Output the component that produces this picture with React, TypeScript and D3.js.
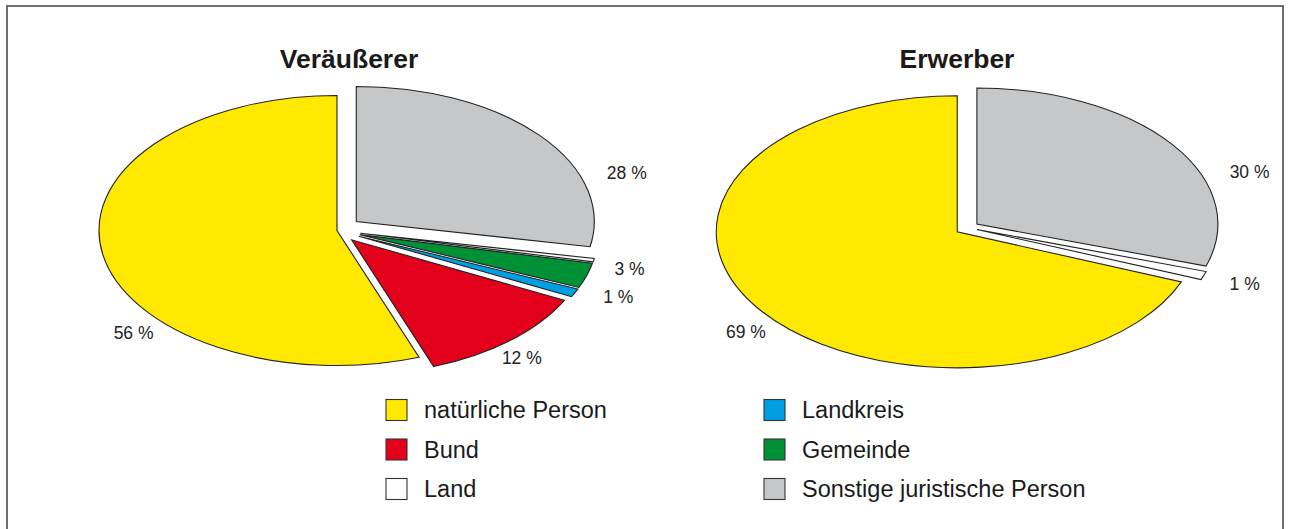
import React from 'react'
import * as d3 from 'd3'

// categories in legend order
const categories = ['natürliche Person', 'Bund', 'Land', 'Landkreis', 'Gemeinde', 'Sonstige juristische Person']
const colors = ['#ffe900', '#e2001a', '#ffffff', '#009fe3', '#009036', '#c6c7c8']

// slices run clockwise from 12 o'clock in this order
const pieOrder = ['Sonstige juristische Person', 'Land', 'Gemeinde', 'Landkreis', 'Bund', 'natürliche Person']

// shares in %, same order as categories
const veraeussererValues = [55.6, 12, 0.4, 1, 3, 28]
const erwerberValues = [69, 0, 1, 0, 0, 30]

const veraeussererLabels = ['56 %', '12 %', '', '1 %', '3 %', '28 %']
const erwerberLabels = ['69 %', '', '1 %', '', '', '30 %']

const titles = ['Veräußerer', 'Erwerber']

// layout of each pie (ellipse centre, radii, explode distance, label spot as [deg, radius factor])
const charts = [
  {
    title: titles[0], values: veraeussererValues, labels: veraeussererLabels,
    cx: 337, cy: 230.5, rx: 238, ry: 135, titleX: 349,
    explode: [0, 22, 24, 24, 24, 25],
    labelPos: [[228.4, 1.143], [140.5, 1.221], [0, 0], [112.6, 1.28], [103.1, 1.262], [70.7, 1.29]],
  },
  {
    title: titles[1], values: erwerberValues, labels: erwerberLabels,
    cx: 968, cy: 227.7, rx: 241, ry: 136, titleX: 957,
    explode: [13, 0, 9.5, 0, 0, 11],
    labelPos: [[230.2, 1.199], [0, 0], [109.8, 1.22], [0, 0], [0, 0], [70.7, 1.238]],
  },
]

const font = '"Liberation Sans", Arial, Helvetica, sans-serif'

function Pie({ chart }) {
  const { cx, cy, rx, ry } = chart
  const k = ry / rx
  const rows = pieOrder.map(name => {
    const i = categories.indexOf(name)
    return { i, name, value: chart.values[i] }
  })
  const pie = d3.pie().sort(null).value(d => d.value)
  const arcs = pie(rows).filter(a => a.data.value > 0)
  const arc = d3.arc().innerRadius(0).outerRadius(rx)

  return (
    <g>
      <text x={chart.titleX} y={68} textAnchor="middle" fontSize={26.5} fontWeight="bold"
        fontFamily={font} fill="#1a1a1a">{chart.title}</text>
      {arcs.map(a => {
        const mid = (a.startAngle + a.endAngle) / 2
        const d = chart.explode[a.data.i]
        const ox = cx + d * Math.sin(mid)
        const oy = cy - d * Math.cos(mid) * k
        return (
          <g key={a.data.name} transform={`translate(${ox},${oy}) scale(1,${k})`}>
            <path d={arc(a)} fill={colors[a.data.i]} stroke="#222" strokeWidth={1.1}
              strokeLinejoin="miter" vectorEffect="non-scaling-stroke" />
          </g>
        )
      })}
      {chart.labels.map((lab, i) => {
        if (!lab) return null
        const [deg, r] = chart.labelPos[i]
        const t = (deg * Math.PI) / 180
        return (
          <text key={i} x={cx + rx * r * Math.sin(t)} y={cy - ry * r * Math.cos(t)}
            textAnchor="middle" dominantBaseline="central" fontSize={17.5}
            fontFamily={font} fill="#222">{lab}</text>
        )
      })}
    </g>
  )
}

const legendCols = [386, 764]
const legendRows = [410, 449.5, 489]

export default function App() {
  return (
    <svg width={1290} height={529} style={{ position: 'absolute', left: 0, top: 0, background: '#fff' }}>
      <rect x={7} y={6} width={1276} height={600} fill="none" stroke="#4d4d4d" strokeWidth={1.6} />
      {charts.map(c => <Pie key={c.title} chart={c} />)}
      {categories.map((name, i) => {
        const x = legendCols[Math.floor(i / 3)]
        const y = legendRows[i % 3]
        return (
          <g key={name}>
            <rect x={x} y={y - 10.5} width={21} height={21} fill={colors[i]} stroke="#333" strokeWidth={1.1} />
            <text x={x + 38} y={y} dominantBaseline="central" fontSize={23.5}
              fontFamily={font} fill="#1a1a1a">{name}</text>
          </g>
        )
      })}
    </svg>
  )
}
